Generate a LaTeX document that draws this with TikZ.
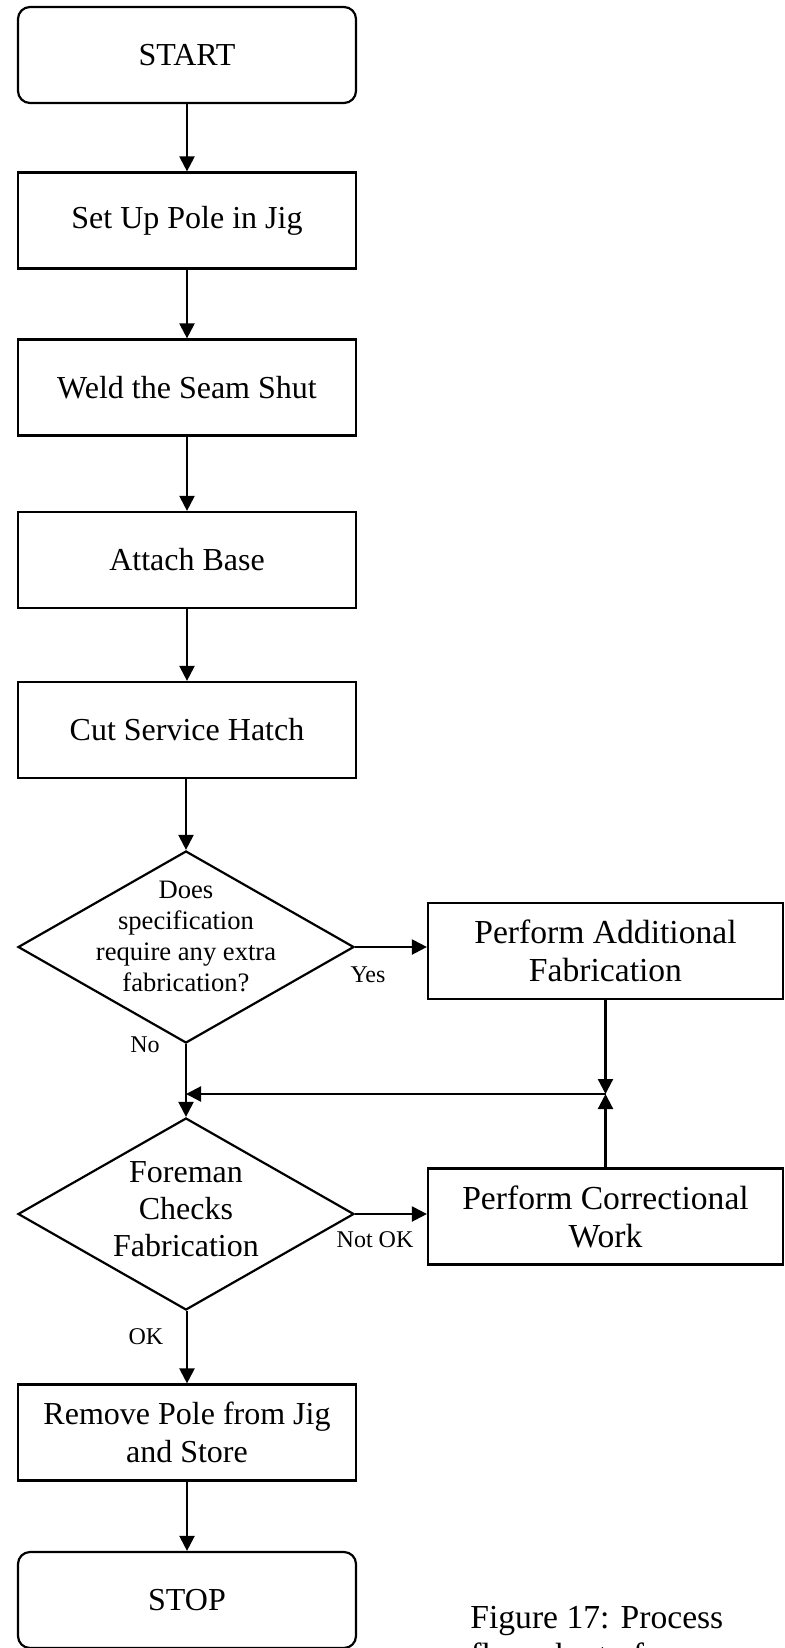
\documentclass[tikz,border=0pt]{standalone}
\usepackage{fontspec}
\setmainfont{Liberation Serif}
\usetikzlibrary{shapes.geometric,arrows.meta}
\begin{document}
\begin{tikzpicture}[x=0.5pt,y=-0.5pt,
  box/.style={draw,line width=1.1pt,minimum width=169pt,minimum height=48pt,inner sep=2pt,align=center,font=\fontsize{16}{19}\selectfont},
  sidebox/.style={box,minimum width=177.5pt,font=\fontsize{16.8}{19}\selectfont},
  term/.style={box,rounded corners=6pt},
  dec/.style={draw,line width=1.1pt,diamond,minimum width=168pt,minimum height=96pt,inner sep=0pt},
  dtext/.style={align=center,inner sep=0pt},
  lab/.style={font=\fontsize{12}{14}\selectfont,inner sep=0pt},
  arr/.style={line width=1.1pt,-{Triangle[length=7.5pt,width=7.5pt]}},
  capt/.style={font=\fontsize{16.8}{19}\selectfont,inner sep=0pt,anchor=base west},
]
\useasboundingbox (0,0) rectangle (784,1648);
\fill[white] (0,0) rectangle (784,1648);

\node[term] (start) at (187,55) {START};
\node[box] (setup) at (187,220.5) {Set Up Pole in Jig};
\node[box] (weld) at (187,387.5) {Weld the Seam Shut};
\node[box] (attach) at (187,560) {Attach Base};
\node[box] (cut) at (187,730) {Cut Service Hatch};
\node[dec] (d1) at (186,947) {};
\node[dtext,font=\fontsize{13.3}{15.5}\selectfont] (d1t) at (186,936) {Does\\specification\\require any extra\\fabrication?};
\node[sidebox] (add) at (605.5,951) {Perform Additional\\Fabrication};
\node[dec] (d2) at (186,1214) {};
\node[dtext,font=\fontsize{16}{18.5}\selectfont] (d2t) at (186,1209) {Foreman\\Checks\\Fabrication};
\node[sidebox] (corr) at (605.5,1216.5) {Perform Correctional\\Work};
\node[box] (remove) at (187,1432.5) {Remove Pole from Jig\\and Store};
\node[term] (stop) at (187,1600) {STOP};

\node[lab] (yes) at (368,975) {Yes};
\node[lab] (no) at (145,1045) {No};
\node[lab] (notok) at (375,1240) {Not OK};
\node[lab] (ok) at (146,1337) {OK};

\node[capt] (cap1) at (470,1628) {Figure 17: Process};
\node[capt] (cap2) at (470,1666) {flow chart of};

\coordinate (j) at (605.5,1094);
\coordinate (m) at (186,1094);

\draw[arr] (start) -- (setup);
\draw[arr] (setup) -- (weld);
\draw[arr] (weld) -- (attach);
\draw[arr] (attach) -- (cut);
\draw[arr] (cut.south -| d1.north) -- (d1.north);
\draw[arr] (d1.east) -- (d1.east -| add.west);
\draw[arr] (d1.south) -- (d2.north);
\draw[arr] (add.south) -- (j);
\draw[arr] (corr.north) -- (j);
\draw[arr] (j) -- (m);
\draw[arr] (d2.east) -- (d2.east -| corr.west);
\draw[arr] (d2.south -| remove.north) -- (remove.north);
\draw[arr] (remove) -- (stop);
\end{tikzpicture}
\end{document}
